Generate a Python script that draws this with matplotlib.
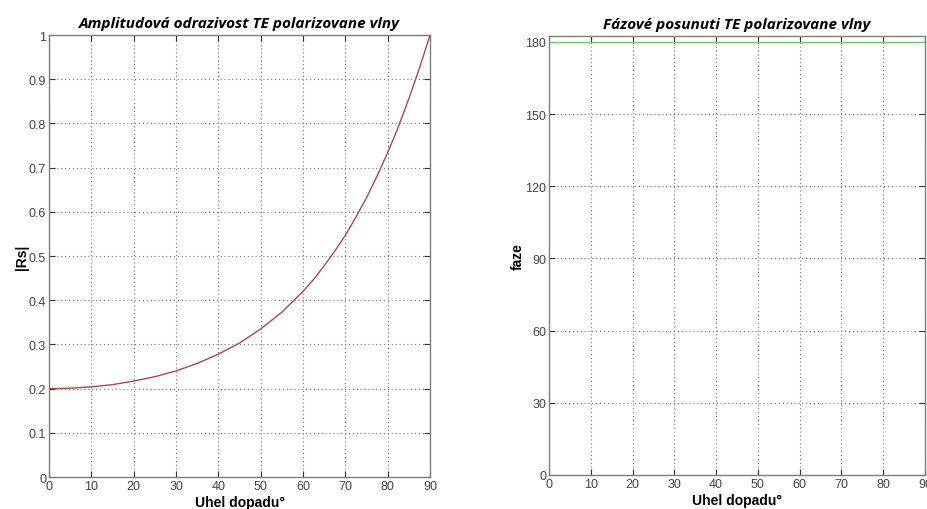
import matplotlib
matplotlib.use('Agg')
import matplotlib.pyplot as plt

# uhel dopadu [deg] a amplitudova odrazivost |Rs|
uhel = [0, 5, 10, 15, 20, 25, 30, 35, 40, 45, 50, 55, 60, 62.5, 65, 67.5,
        70, 72.5, 75, 77.5, 80, 82.5, 85, 87.5, 90]
rs = [0.200, 0.201, 0.204, 0.209, 0.217, 0.227, 0.240, 0.257, 0.278, 0.303,
      0.335, 0.373, 0.420, 0.447, 0.478, 0.511, 0.547, 0.588, 0.632, 0.681,
      0.734, 0.792, 0.856, 0.925, 1.000]

# fazove posunuti [deg]
uhel_f = [0, 90]
faze = [180, 180]

frame_col = '#7f7f7f'
plt.rcParams['font.family'] = ['Liberation Sans', 'DejaVu Sans']

fig = plt.figure(figsize=(9.28, 5.10), dpi=100)
ax1 = fig.add_axes([0.0528, 0.0627, 0.4106, 0.8667])
ax2 = fig.add_axes([0.5916, 0.0667, 0.4052, 0.8608])


def style(ax):
    for s in ax.spines.values():
        s.set_color(frame_col)
        s.set_linewidth(1.0)
    ax.tick_params(direction='in', length=4, color='#333333',
                   labelcolor='#444444', labelsize=9,
                   top=True, right=True, pad=2)
    ax.grid(True, linestyle=(0, (1, 2.5)), color='#777777', linewidth=0.8)


ax1.plot(uhel, rs, color='#b04848', linewidth=1.0)
ax1.set_xlim(0, 90)
ax1.set_ylim(0, 1)
ax1.set_xticks(range(0, 91, 10))
ax1.set_yticks([i / 10 for i in range(11)])
ax1.set_yticklabels(['0', '0.1', '0.2', '0.3', '0.4', '0.5', '0.6', '0.7',
                     '0.8', '0.9', '1'])
style(ax1)
ax1.set_title('Amplitudová odrazivost TE polarizovane vlny',
              fontfamily='Open Sans', fontweight='bold', fontstyle='italic',
              fontsize=11, pad=6)
ax1.set_xlabel('Uhel dopadu°', fontweight='bold', fontsize=10, labelpad=2)
ax1.set_ylabel('|Rs|', fontweight='bold', fontsize=10, labelpad=0)

ax2.plot(uhel_f, faze, color='#6ccf6c', linewidth=1.0)
ax2.set_xlim(0, 90)
ax2.set_ylim(0, 182.5)
ax2.set_xticks(range(0, 91, 10))
ax2.set_yticks(range(0, 181, 30))
style(ax2)
ax2.set_title('Fázové posunuti TE polarizovane vlny',
              fontfamily='Open Sans', fontweight='bold', fontstyle='italic',
              fontsize=11, pad=6)
ax2.set_xlabel('Uhel dopadu°', fontweight='bold', fontsize=10, labelpad=2)
ax2.set_ylabel('faze', fontweight='bold', fontsize=10, labelpad=0)

fig.savefig('out.png', dpi=100)
